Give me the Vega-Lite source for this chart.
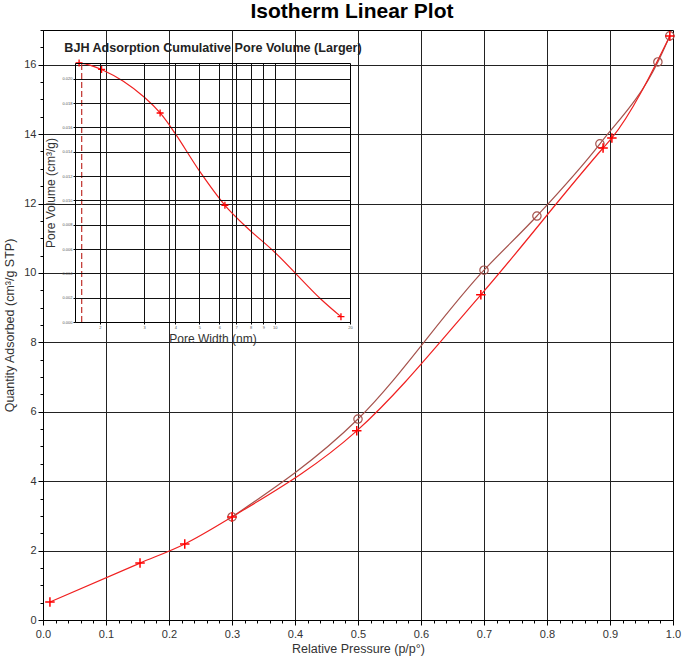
{
  "$schema": "https://vega.github.io/schema/vega-lite/v6.json",
  "width": 630,
  "height": 590,
  "autosize": "none",
  "padding": {"left": 43, "top": 30, "right": 12, "bottom": 41},
  "title": {"text": "Isotherm Linear Plot", "fontSize": 21, "fontWeight": "bold", "color": "#000", "anchor": "middle", "offset": 2, "dx": -6},
  "config": {"font": "Liberation Sans", "view": {"stroke": "#000", "strokeWidth": 1}},
  "datasets": {
    "adsorption": [
      {"p": 0.011, "q": 0.52}, {"p": 0.154, "q": 1.64}, {"p": 0.225, "q": 2.19}, {"p": 0.300, "q": 2.97},
      {"p": 0.498, "q": 5.45}, {"p": 0.695, "q": 9.37}, {"p": 0.889, "q": 13.60}, {"p": 0.903, "q": 13.89},
      {"p": 0.995, "q": 16.83}
    ],
    "desorption": [
      {"p": 0.300, "q": 2.97}, {"p": 0.500, "q": 5.79}, {"p": 0.700, "q": 10.08}, {"p": 0.784, "q": 11.64},
      {"p": 0.884, "q": 13.72}, {"p": 0.976, "q": 16.08}, {"p": 0.995, "q": 16.83}
    ],
    "inset": [
      {"w": 1.65, "v": 0.0213, "m": 1}, {"w": 1.82, "v": 0.02113, "m": 0}, {"w": 2.03, "v": 0.02077, "m": 1},
      {"w": 2.48, "v": 0.0198, "m": 0}, {"w": 3.01, "v": 0.01848, "m": 0}, {"w": 3.48, "v": 0.01719, "m": 1},
      {"w": 3.99, "v": 0.01553, "m": 0}, {"w": 5.02, "v": 0.01236, "m": 0}, {"w": 6.32, "v": 0.0096, "m": 1},
      {"w": 7.83, "v": 0.00767, "m": 0}, {"w": 10, "v": 0.00574, "m": 0}, {"w": 15.2, "v": 0.00193, "m": 0},
      {"w": 18.4, "v": 0.00044, "m": 1}
    ]
  },
  "resolve": {"scale": {"x": "independent", "y": "independent"}, "axis": {"x": "independent", "y": "independent"}},
  "layer": [
    {
      "encoding": {
        "x": {
          "field": "p", "type": "quantitative", "title": "Relative Pressure (p/p°)",
          "scale": {"domain": [0, 1], "nice": false, "zero": false},
          "axis": {
            "orient": "bottom",
            "values": [0,0.02,0.04,0.06,0.08,0.1,0.12,0.14,0.16,0.18,0.2,0.22,0.24,0.26,0.28,0.3,0.32,0.34,0.36,0.38,0.4,0.42,0.44,0.46,0.48,0.5,0.52,0.54,0.56,0.58,0.6,0.62,0.64,0.66,0.68,0.7,0.72,0.74,0.76,0.78,0.8,0.82,0.84,0.86,0.88,0.9,0.92,0.94,0.96,0.98,1],
            "labelExpr": "abs(datum.value*10-round(datum.value*10))<0.001 ? format(datum.value,'.1f') : ''",
            "labelOverlap": false, "labelFlush": false,
            "grid": true, "gridColor": "#222",
            "gridOpacity": {"condition": {"test": "abs(datum.value*10-round(datum.value*10))<0.001 && datum.value>0.01 && datum.value<0.99", "value": 1}, "value": 0},
            "tickSize": {"condition": {"test": "abs(datum.value*10-round(datum.value*10))<0.001", "value": 5}, "value": 3},
            "tickColor": "#000", "domainColor": "#000",
            "labelFontSize": 11, "labelColor": "#333", "labelPadding": 3,
            "titleFontSize": 12.5, "titleFontWeight": "normal", "titleColor": "#333", "titlePadding": 3
          }
        },
        "y": {
          "field": "q", "type": "quantitative", "title": "Quantity Adsorbed (cm³/g STP)",
          "scale": {"domain": [0, 17], "nice": false, "zero": false},
          "axis": {
            "orient": "left",
            "values": [0,0.5,1,1.5,2,2.5,3,3.5,4,4.5,5,5.5,6,6.5,7,7.5,8,8.5,9,9.5,10,10.5,11,11.5,12,12.5,13,13.5,14,14.5,15,15.5,16,16.5,17],
            "labelExpr": "datum.value % 2 == 0 ? format(datum.value,'d') : ''",
            "labelOverlap": false, "labelFlush": false,
            "grid": true, "gridColor": "#222",
            "gridOpacity": {"condition": {"test": "datum.value % 2 == 0 && datum.value > 0", "value": 1}, "value": 0},
            "tickSize": {"condition": {"test": "datum.value % 2 == 0", "value": 5}, "value": 3},
            "tickColor": "#000", "domainColor": "#000",
            "labelFontSize": 11, "labelColor": "#333", "labelPadding": 2,
            "titleFontSize": 12.5, "titleFontWeight": "normal", "titleColor": "#333", "titlePadding": 7
          }
        }
      },
      "layer": [
        {
          "data": {"values": [{}]},
          "mark": {"type": "rect", "fill": "#fff"},
          "encoding": {
            "x": {"datum": 0.003, "type": "quantitative", "title": "Relative Pressure (p/p°)"},
            "x2": {"datum": 0.503},
            "y": {"datum": 7.97, "type": "quantitative", "title": "Quantity Adsorbed (cm³/g STP)"},
            "y2": {"datum": 16.98}
          }
        },
        {
          "data": {"name": "desorption"},
          "mark": {"type": "line", "interpolate": "monotone", "color": "#a5524c", "strokeWidth": 1.2}
        },
        {
          "data": {"name": "adsorption"},
          "mark": {"type": "line", "interpolate": "monotone", "color": "#f02020", "strokeWidth": 1.2}
        },
        {
          "data": {"name": "desorption"},
          "mark": {"type": "point", "shape": "circle", "filled": false, "size": 70, "color": "#a5524c", "strokeWidth": 1.2, "opacity": 1}
        },
        {
          "data": {"name": "adsorption"},
          "mark": {"type": "point", "shape": "M-1,0L1,0M0,-1L0,1", "filled": false, "size": 90, "color": "#ff0000", "strokeWidth": 1.5, "opacity": 1}
        }
      ]
    },
    {
      "data": {"name": "inset"},
      "encoding": {
        "x": {
          "field": "w", "type": "quantitative", "title": "Pore Width (nm)",
          "scale": {"type": "log", "domain": [1.589, 20], "range": [32, 307], "nice": false},
          "axis": {
            "orient": "bottom", "offset": -298, "zindex": 1,
            "values": [2,3,4,5,6,7,8,9,10,20], "format": "d",
            "labelFontSize": 4, "labelColor": "#555", "labelPadding": 1, "labelFlush": false, "labelOverlap": false,
            "tickSize": 2, "tickColor": "#000", "domainColor": "#000",
            "grid": false,
            "titleFontSize": 12, "titleFontWeight": "normal", "titleColor": "#333", "titlePadding": 4
          }
        },
        "y": {
          "field": "v", "type": "quantitative", "title": "Pore Volume (cm³/g)",
          "scale": {"domain": [0, 0.0213], "range": [292, 33], "nice": false, "zero": false},
          "axis": {
            "orient": "left", "offset": -32, "zindex": 1,
            "values": [0,0.002,0.004,0.006,0.008,0.01,0.012,0.014,0.016,0.018,0.02], "format": ".3f",
            "labelFontSize": 4, "labelColor": "#555", "labelPadding": 1, "labelFlush": false, "labelOverlap": false,
            "tickSize": 2, "tickColor": "#000", "domainColor": "#000",
            "grid": true, "gridColor": "#111", "gridOpacity": 1,
            "titleFontSize": 12, "titleFontWeight": "normal", "titleColor": "#333", "titlePadding": 4
          }
        }
      },
      "layer": [
        {"mark": {"type": "line", "interpolate": "catmull-rom", "color": "#f02020", "strokeWidth": 1.2}},
        {
          "transform": [{"filter": "datum.m == 1"}],
          "mark": {"type": "point", "shape": "M-1,0L1,0M0,-1L0,1", "filled": false, "size": 49, "color": "#ff0000", "strokeWidth": 1.3, "opacity": 1}
        }
      ]
    },
    {
      "data": {"values": [{}]},
      "mark": {"type": "rule", "color": "#c0302a", "strokeDash": [6, 3], "strokeWidth": 1.2},
      "encoding": {
        "x": {
          "datum": 1.69, "type": "quantitative",
          "scale": {"type": "log", "domain": [1.589, 20], "range": [32, 307], "nice": false},
          "axis": {"title": "BJH Adsorption Cumulative Pore Volume (Larger)",
                   "orient": "top", "offset": -33, "zindex": 1, "labels": false, "ticks": false,
                   "values": [2,3,4,5,6,7,8,9,10],
                   "grid": true, "gridColor": "#111", "gridOpacity": 1, "domainColor": "#000",
                   "titleFontSize": 12.6, "titleFontWeight": "bold", "titleColor": "#222", "titlePadding": 9}
        },
        "y": {
          "datum": 0, "type": "quantitative",
          "scale": {"domain": [0, 0.0213], "range": [292, 33], "nice": false, "zero": false},
          "axis": {"orient": "right", "offset": -323, "zindex": 1, "labels": false, "ticks": false, "grid": false, "domainColor": "#000", "title": null}
        },
        "y2": {"datum": 0.0213}
      }
    }
  ]
}
